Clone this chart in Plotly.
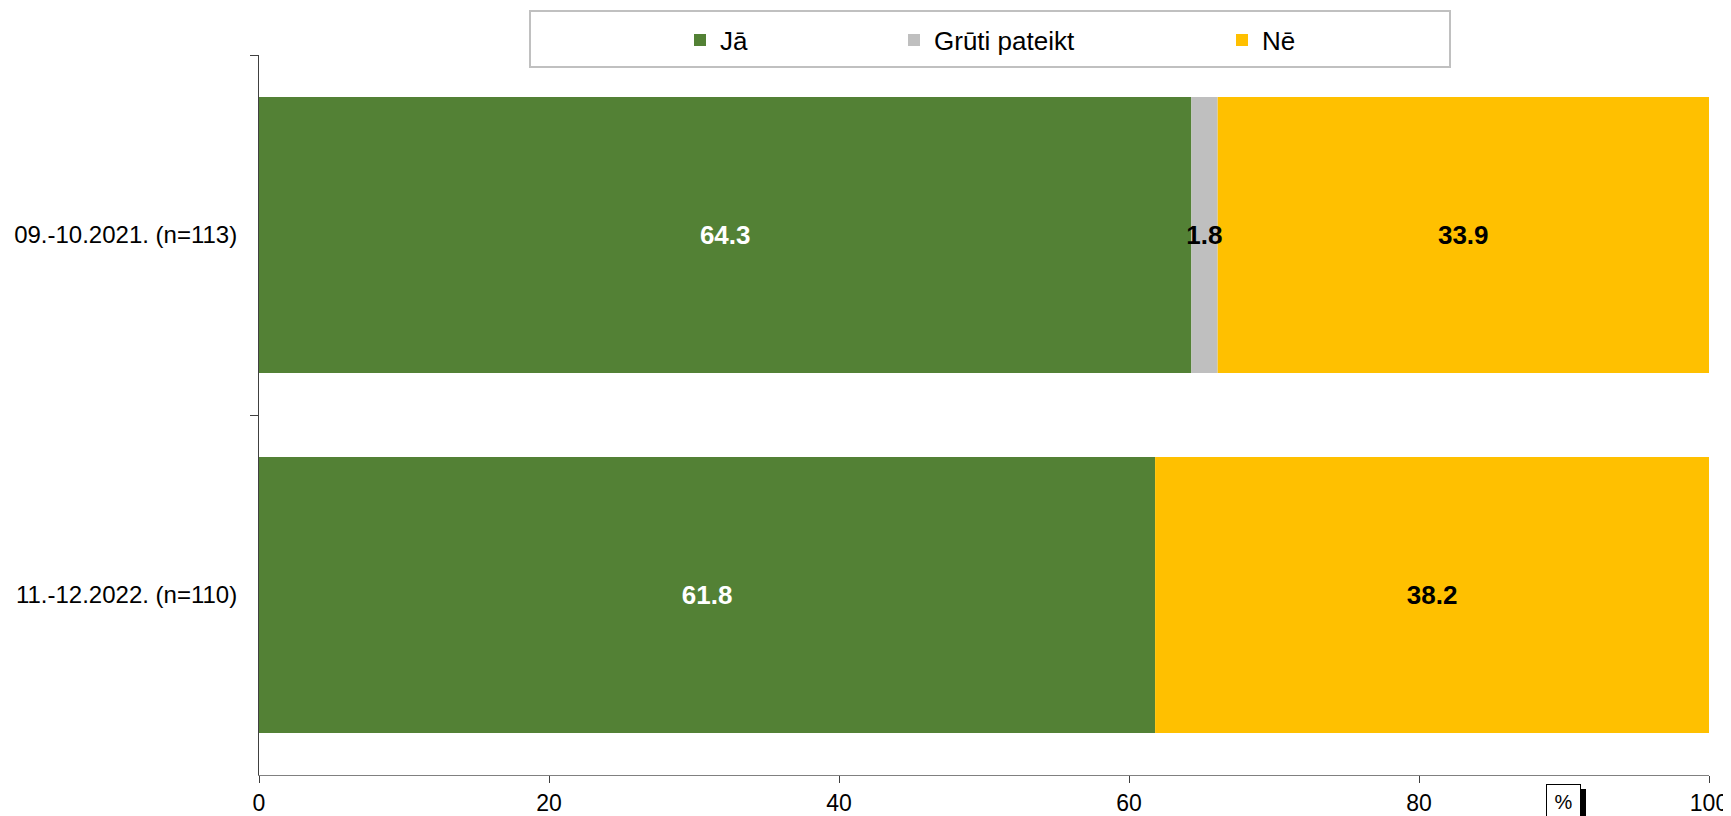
import plotly.graph_objects as go

categories = ["09.-10.2021. (n=113)", "11.-12.2022. (n=110)"]
ja = [64.3, 61.8]
gruti = [1.8, 0.0]
ne = [33.9, 38.2]
series_names = ["Jā", "Grūti pateikt", "Nē"]
x_ticks = [0, 20, 40, 60, 80, 100]

# the page body has an 8px margin, so the figure is drawn offset by 8px
OFF = 8
PAGE_W, PAGE_H = 1731, 816
W, H = PAGE_W - OFF, PAGE_H - OFF
# plot area in page pixels
PX_L, PX_R, PX_T, PX_B = 259, 1709, 55, 775
L, R, T, B = PX_L - OFF, PAGE_W - PX_R, PX_T - OFF, PAGE_H - PX_B
pw, ph = PX_R - PX_L, PX_B - PX_T

def px_x(p):
    return (p - PX_L) / pw

def px_y(p):
    return (PX_B - p) / ph

def cx(p):
    return (p - OFF) / W

def cy(p):
    return 1 - (p - OFF) / H

colors = {"Jā": "#538135", "Grūti pateikt": "#bfbfbf", "Nē": "#ffc000"}
text_colors = {"Jā": "white", "Grūti pateikt": "black", "Nē": "black"}
values = {"Jā": ja, "Grūti pateikt": gruti, "Nē": ne}
bases = {
    "Jā": [0.0 for _ in ja],
    "Grūti pateikt": list(ja),
    "Nē": [a + b for a, b in zip(ja, gruti)],
}
legend_ids = {"Jā": "legend", "Grūti pateikt": "legend2", "Nē": "legend3"}

fig = go.Figure()
# draw grey last so its label sits on top of the neighbouring segments
for name in ["Jā", "Nē", "Grūti pateikt"]:
    vals = values[name]
    texts = [f"{v:.1f}" if v > 0 else "" for v in vals]
    fig.add_trace(go.Bar(
        y=categories, x=vals, base=bases[name], name=name, orientation="h",
        marker=dict(color=colors[name], line=dict(width=0)),
        text=texts, textposition="inside", insidetextanchor="middle", textangle=0,
        textfont=dict(family="Liberation Sans, Arial", size=26, color=text_colors[name], weight="bold"),
        constraintext="none", cliponaxis=False,
        legend=legend_ids[name], showlegend=True,
    ))

# symbol centres in page px: 700, 914, 1242 ; plotly symbol sits ~20px right of legend left
legend_left_page = {"legend": 680, "legend2": 894, "legend3": 1222}
legend_common = dict(orientation="h", yanchor="middle", xanchor="left",
                     xref="container", yref="container",
                     bgcolor="rgba(0,0,0,0)", borderwidth=0,
                     font=dict(family="Liberation Sans, Arial", size=26, color="black"),
                     itemwidth=30)
fig.update_layout(
    showlegend=True,
    legend=dict(x=cx(legend_left_page["legend"]), y=cy(40), **legend_common),
    legend2=dict(x=cx(legend_left_page["legend2"]), y=cy(40), **legend_common),
    legend3=dict(x=cx(legend_left_page["legend3"]), y=cy(40), **legend_common),
)

fig.update_layout(
    width=W, height=H,
    margin=dict(l=L, r=R, t=T, b=B, pad=0, autoexpand=False),
    barmode="overlay", bargap=0.233,
    plot_bgcolor="white", paper_bgcolor="white",
    uniformtext=dict(minsize=26, mode="show"),
    font=dict(family="Liberation Sans, Arial", color="black"),
    xaxis=dict(range=[0, 100], tickvals=x_ticks, ticks="outside", ticklen=7,
               tickcolor="#404040", showline=True, linecolor="#808080", linewidth=1,
               showgrid=False, zeroline=False, automargin=False,
               tickfont=dict(size=23, color="black")),
    yaxis=dict(range=[1.5, -0.5], ticks="outside", ticklen=8, tickson="boundaries",
               tickcolor="#404040", showline=True, linecolor="#404040", linewidth=1,
               showgrid=False, zeroline=False, ticklabelstandoff=16, automargin=False,
               tickfont=dict(size=24, color="black")),
    shapes=[
        dict(type="rect", xref="paper", yref="paper",
             x0=px_x(530), x1=px_x(1450), y0=px_y(67), y1=px_y(11),
             line=dict(color="#c0c0c0", width=2), fillcolor="rgba(0,0,0,0)", layer="below"),
        dict(type="rect", xref="paper", yref="paper",
             x0=px_x(1581), x1=px_x(1586), y0=px_y(820), y1=px_y(789),
             line=dict(width=0), fillcolor="black"),
    ],
    annotations=[
        dict(text="%", xref="paper", yref="paper", x=px_x(1563.5), y=px_y(784),
             xanchor="center", yanchor="top", showarrow=False,
             font=dict(size=20, color="black"), bordercolor="black", borderwidth=1,
             bgcolor="white", width=31, height=32),
    ],
)

fig.write_html("out.html")
